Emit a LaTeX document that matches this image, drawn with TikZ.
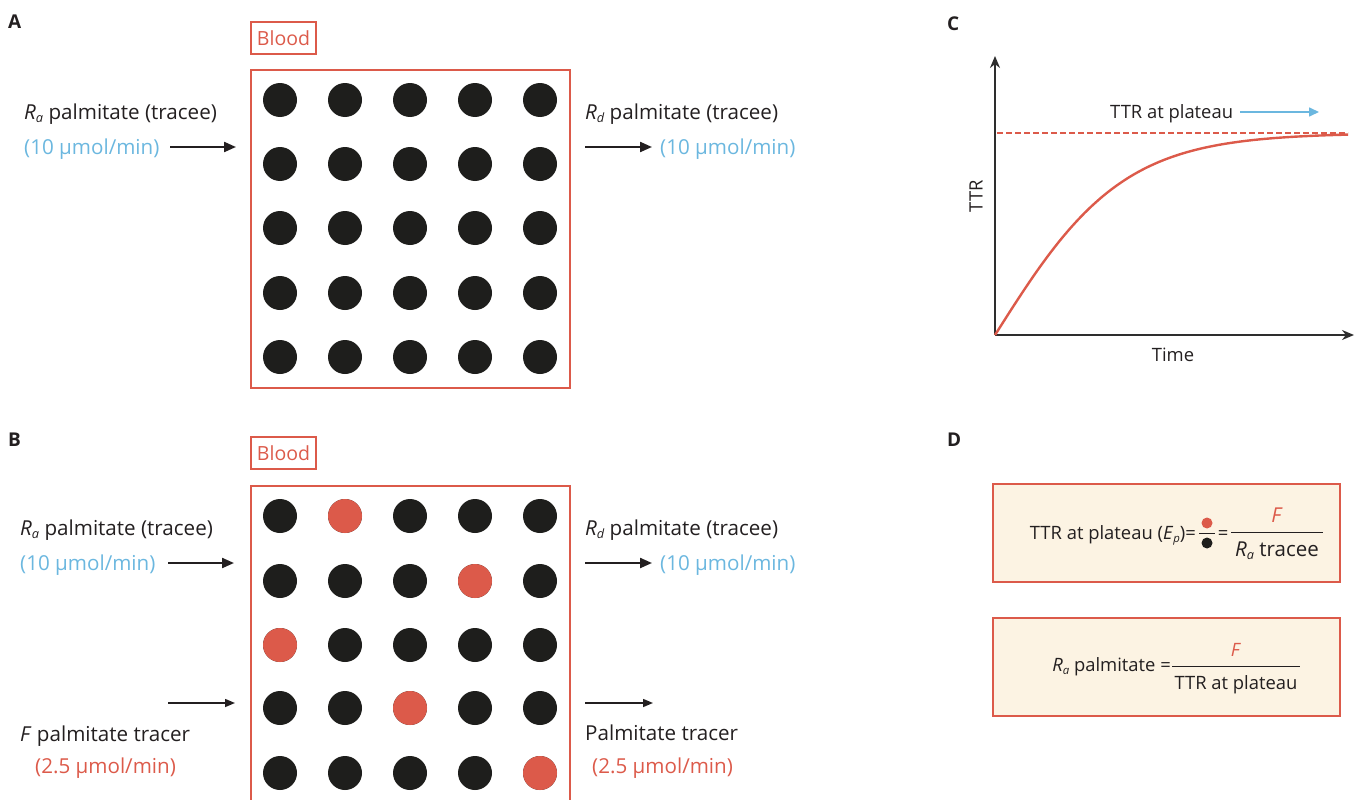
\documentclass[tikz,border=0pt]{standalone}
\usepackage{fontspec}
\setmainfont{Open Sans}
\usetikzlibrary{arrows.meta}
\definecolor{bred}{HTML}{DC5A4A}
\definecolor{bblue}{HTML}{6BB7DF}
\definecolor{dotblack}{HTML}{1E1E1C}
\definecolor{ink}{HTML}{231F20}
\definecolor{axisgray}{HTML}{2E2E2E}
\definecolor{cream}{HTML}{FCF3E3}
% small italic subscript
\newcommand\subit[1]{\raisebox{-0.35ex}{\scalebox{0.62}{\itshape #1}}}
\begin{document}
\begin{tikzpicture}[x=1pt,y=-1pt,
  lbl/.style={anchor=base west,inner sep=0pt,text=ink,font=\fontsize{20.6}{24}\selectfont},
  rate/.style={anchor=base west,inner sep=0pt,text=bblue,font=\fontsize{20.6}{24}\selectfont},
  tracerrate/.style={anchor=base west,inner sep=0pt,text=bred,font=\fontsize{20.6}{24}\selectfont},
  panel/.style={anchor=base west,inner sep=0pt,text=ink,font=\fontsize{19}{22}\selectfont\bfseries},
  bloodtag/.style={draw=bred,line width=1.3pt,text=bred,minimum width=65pt,minimum height=32pt,inner sep=0pt,font=\fontsize{19.5}{22}\selectfont},
  pool/.style={draw=bred,line width=2pt},
  tracee/.style={circle,fill=dotblack,minimum size=34pt,inner sep=0pt},
  tracer/.style={circle,fill=bred,minimum size=34pt,inner sep=0pt},
  flow/.style={-{Triangle[length=12pt,width=10pt]},line width=2.2pt,draw=ink},
  thinflow/.style={-{Triangle[length=10pt,width=8pt]},line width=1.5pt,draw=ink},
  axis/.style={-{Stealth[length=12pt,width=10pt]},line width=1.6pt,draw=axisgray},
  eqbox/.style={draw=bred,fill=cream,line width=1.2pt},
  eqtext/.style={inner sep=0pt,text=ink,font=\fontsize{18.4}{21}\selectfont},
  fracbar/.style={draw=ink,line width=1pt},
]
\useasboundingbox (0,0) rectangle (1357,800);

% ---------------- Panel A ----------------
\node[panel] (pA) at (8,29) {A};
\node[bloodtag] (bloodA) at (283.5,38) {Blood};
\draw[pool] (251,70) rectangle (570,388);
\foreach \c [count=\i] in {280,345,410,475,540}
  \foreach \r [count=\j] in {100,164,228,293,357}
    \node[tracee] (a-\j-\i) at (\c,\r) {};

\node[lbl] (raA) at (24,119) {\textit{R}\subit{a} palmitate (tracee)};
\node[rate] (raArate) at (24,154) {(10 µmol/min)};
\coordinate (inA0) at (170,147);
\coordinate (inA1) at (236,147);
\draw[flow] (inA0) -- (inA1);

\node[lbl] (rdA) at (585,119) {\textit{R}\subit{d} palmitate (tracee)};
\coordinate (outA0) at (585,147);
\coordinate (outA1) at (652,147);
\draw[flow] (outA0) -- (outA1);
\node[rate] (rdArate) at (660,154) {(10 µmol/min)};

% ---------------- Panel B ----------------
\node[panel] (pB) at (8,446) {B};
\node[bloodtag] (bloodB) at (283.5,453) {Blood};
\draw[pool] (251,802) -- (251,486) -- (570,486) -- (570,802);
\foreach \c [count=\i] in {280,345,410,475,540}
  \foreach \r [count=\j] in {516,581,645,708,773}
    \node[tracee] (b-\j-\i) at (\c,\r) {};
% labelled tracer molecules
\foreach \j/\i in {1/2,2/4,3/1,4/3,5/5}
  \node[tracer] (t-\j-\i) at (b-\j-\i) {};

\node[lbl] (raB) at (20,535) {\textit{R}\subit{a} palmitate (tracee)};
\node[rate] (raBrate) at (20,570) {(10 µmol/min)};
\coordinate (inB0) at (168,563);
\coordinate (inB1) at (234,563);
\draw[flow] (inB0) -- (inB1);

\node[lbl] (rdB) at (585,535) {\textit{R}\subit{d} palmitate (tracee)};
\coordinate (outB0) at (585,563);
\coordinate (outB1) at (652,563);
\draw[flow] (outB0) -- (outB1);
\node[rate] (rdBrate) at (660,570) {(10 µmol/min)};

\coordinate (inF0) at (168,703);
\coordinate (inF1) at (235,703);
\draw[thinflow] (inF0) -- (inF1);
\node[lbl] (fB) at (20,741) {\textit{F} palmitate tracer};
\node[tracerrate] (fBrate) at (35,773) {(2.5 µmol/min)};

\coordinate (outF0) at (585,703);
\coordinate (outF1) at (653,703);
\draw[thinflow] (outF0) -- (outF1);
\node[lbl] (pt) at (585,740) {Palmitate tracer};
\node[tracerrate] (ptrate) at (592,773) {(2.5 µmol/min)};

% ---------------- Panel C ----------------
\node[panel] (pC) at (947,31) {C};
\coordinate (origin) at (995,335);
\coordinate (ytop) at (995,56);
\coordinate (xend) at (1354,335);
\draw[axis] (origin) -- (ytop);
\draw[axis] (origin) -- (xend);
\node[eqtext,rotate=90] (ttr) at (976,196) {TTR};
\node[eqtext,anchor=base] (time) at (1173,361) {Time};
\coordinate (plat0) at (997,133);
\coordinate (plat1) at (1348,133);
\draw[bred,line width=2.4pt,dash pattern=on 6pt off 3pt] (plat0) -- (plat1);
\draw[bred,line width=2.4pt,line join=round]
  plot[domain=0:353,samples=120,smooth] ({995+\x},{335-202*tanh(\x/128)});
\node[eqtext,anchor=base west] (plabel) at (1110,118) {TTR at plateau};
\coordinate (pa0) at (1240,112);
\coordinate (pa1) at (1319,112);
\draw[-{Triangle[length=10pt,width=9pt]},line width=1.6pt,bblue] (pa0) -- (pa1);

% ---------------- Panel D ----------------
\node[panel] (pD) at (947,446) {D};
\draw[eqbox] (993,484) rectangle (1340,582);
\draw[eqbox] (993,618) rectangle (1340,716);

% first equation
\node[eqtext,anchor=base east] (eq1l) at (1196,539) {TTR at plateau (\textit{E}\subit{p})=};
\node[circle,fill=bred,minimum size=11pt,inner sep=0pt] (rdot) at (1207,523) {};
\node[circle,fill=dotblack,minimum size=11pt,inner sep=0pt] (kdot) at (1207,543) {};
\coordinate (dbar0) at (1199,533);
\coordinate (dbar1) at (1215,533);
\draw[fracbar] (dbar0) -- (dbar1);
\node[eqtext,anchor=base] (eq1m) at (1223,539) {=};
\coordinate (f1a) at (1231,532);
\coordinate (f1b) at (1323,532);
\draw[fracbar] (f1a) -- (f1b);
\node[eqtext,anchor=base,text=bred,font=\fontsize{20.5}{24}\selectfont] (f1num) at (1277,522) {\textit{F}};
\node[eqtext,anchor=base,font=\fontsize{20.5}{24}\selectfont] (f1den) at (1277,556) {\textit{R}\subit{a} tracee};

% second equation
\node[eqtext,anchor=base east] (eq2l) at (1171,671) {\textit{R}\subit{a} palmitate =};
\coordinate (f2a) at (1172,666);
\coordinate (f2b) at (1300,666);
\draw[fracbar] (f2a) -- (f2b);
\node[eqtext,anchor=base,text=bred] (f2num) at (1236,656) {\textit{F}};
\node[eqtext,anchor=base] (f2den) at (1236,689) {TTR at plateau};
\end{tikzpicture}
\end{document}
